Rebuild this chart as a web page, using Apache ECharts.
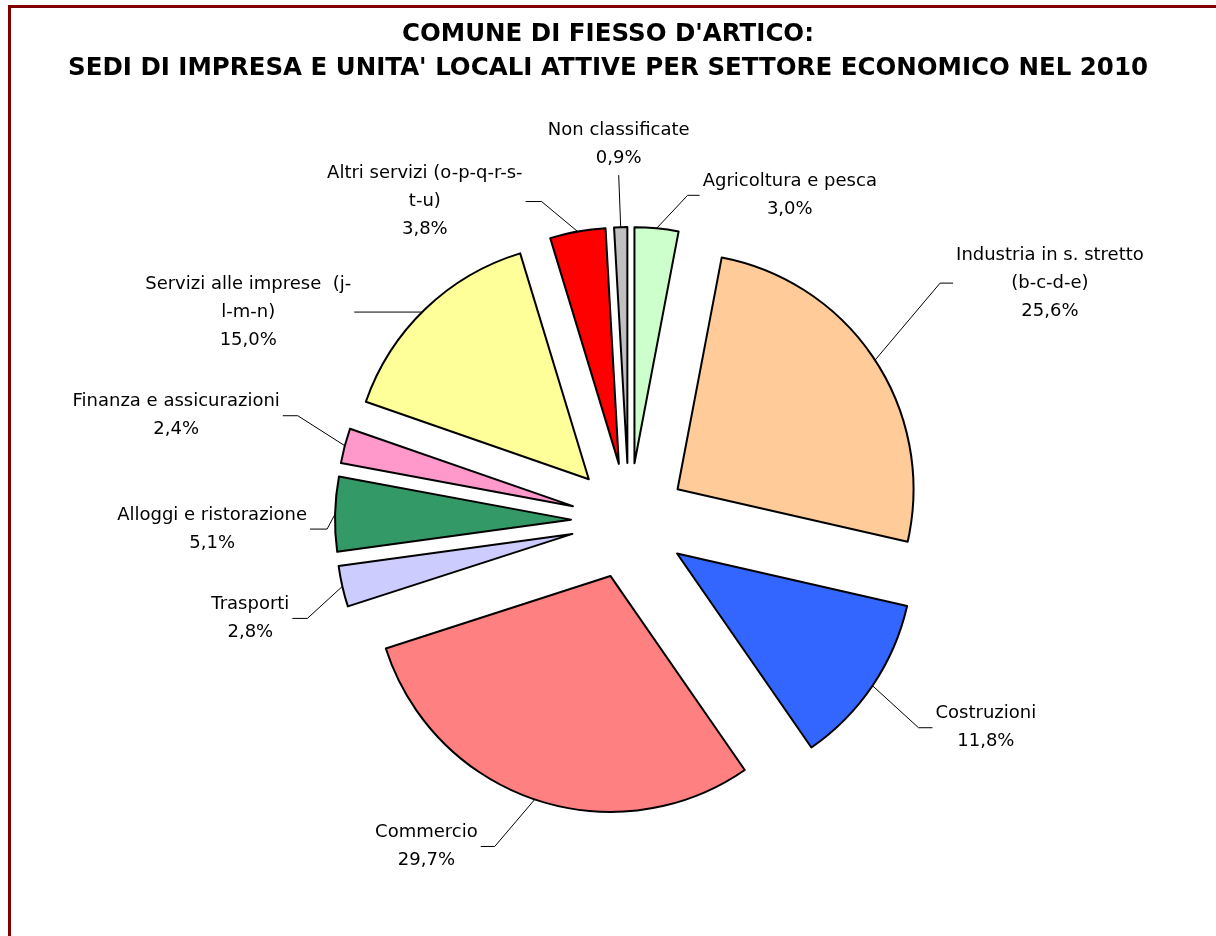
<!DOCTYPE html>
<html>
<head>
<meta charset="utf-8">
<script src="https://cdn.jsdelivr.net/npm/echarts@6/dist/echarts.min.js"></script>
<style>
  html, body { margin: 0; padding: 0; background: #fff; }
  #chart { width: 1216px; height: 936px; }
</style>
</head>
<body>
<div id="chart"></div>
<script>
var titleLines = ["COMUNE DI FIESSO D'ARTICO:", "SEDI DI IMPRESA E UNITA' LOCALI ATTIVE PER SETTORE ECONOMICO NEL 2010"];
var sectors = ['Agricoltura e pesca', 'Industria in s. stretto\n(b-c-d-e)', 'Costruzioni', 'Commercio', 'Trasporti',
    'Alloggi e ristorazione', 'Finanza e assicurazioni', 'Servizi alle imprese  (j-\nl-m-n)',
    'Altri servizi (o-p-q-r-s-\nt-u)', 'Non classificate'];
var shares = [3.0, 25.6, 11.8, 29.7, 2.8, 5.1, 2.4, 15.0, 3.8, 0.9];
var colors = ['#CCFFCC', '#FFCC99', '#3366FF', '#FF8080', '#CCCCFF', '#339966', '#FF99CC', '#FFFF99', '#FF0000', '#C0C0C0'];

// pie geometry
var cx = 629, cy = 521, R = 236, explode = 58;
// leader lines: elbow offset from the slice edge [dx, dy], then horizontal run
var leaders = [[31, -33, 12], [65, -77, 13], [46, 42, 14], [-40, 47, -14], [-35, 32, -15],
    [-8, 15, -17], [-47, -30, -15], [-1, 3, -70], [-36, -30, -16], [-2, -52, 0]];

var total = shares.reduce(function (a, b) { return a + b; }, 0);
function edgePoint(i) {
    var before = 0;
    for (var k = 0; k < i; k++) before += shares[k];
    var mid = (before + shares[i] / 2) / total * 2 * Math.PI;
    return [cx + (R + explode) * Math.sin(mid), cy - (R + explode) * Math.cos(mid)];
}

var myChart = echarts.init(document.getElementById('chart'));
var option = {
    backgroundColor: '#fff',
    animation: false,
    title: {
        text: titleLines.join('\n'),
        left: 'center',
        top: 13,
        textStyle: {
            fontFamily: 'DejaVu Sans',
            fontWeight: 'bold',
            fontSize: 24.5,
            lineHeight: 34,
            color: '#000'
        }
    },
    graphic: [{
        type: 'rect',
        shape: { x: 9.5, y: 6.5, width: 1300, height: 1000 },
        style: { fill: 'none', stroke: '#800000', lineWidth: 3 },
        silent: true
    }],
    series: [{
        // exploded slices
        type: 'pie',
        center: [cx, cy],
        radius: R,
        startAngle: 90,
        clockwise: true,
        selectedMode: 'multiple',
        selectedOffset: explode,
        silent: true,
        label: { show: false },
        labelLine: { show: false },
        itemStyle: { borderColor: '#000', borderWidth: 2 },
        data: sectors.map(function (s, i) {
            return { name: s, value: shares[i], selected: true, itemStyle: { color: colors[i] } };
        })
    }, {
        // same data, invisible, only carries the labels
        type: 'pie',
        center: [cx, cy],
        radius: R,
        startAngle: 90,
        clockwise: true,
        selectedMode: false,
        silent: true,
        avoidLabelOverlap: false,
        itemStyle: { color: 'rgba(0,0,0,0)', borderWidth: 0 },
        label: {
            show: true,
            position: 'outside',
            fontFamily: 'DejaVu Sans',
            fontSize: 18,
            lineHeight: 28,
            color: '#000',
            formatter: function (p) {
                return p.name + '\n' + p.value.toFixed(1).replace('.', ',') + '%';
            }
        },
        labelLine: {
            show: true,
            lineStyle: { color: '#000', width: 1 }
        },
        labelLayout: function (p) {
            var i = p.dataIndex;
            var s = edgePoint(i);
            var L = leaders[i];
            var elbow = [s[0] + L[0], s[1] + L[1]];
            var end = [elbow[0] + L[2], elbow[1]];
            var w = p.labelRect.width, h = p.labelRect.height;
            var x, y;
            if (L[2] > 0) { x = end[0] + 3 + w / 2; y = end[1]; }
            else if (L[2] < 0) { x = end[0] - 3 - w / 2; y = end[1]; }
            else { x = end[0]; y = end[1] - 3 - h / 2; }
            return {
                x: x, y: y, align: 'center', verticalAlign: 'middle',
                labelLinePoints: [s, elbow, end]
            };
        },
        data: sectors.map(function (s, i) {
            return { name: s, value: shares[i] };
        })
    }]
};
myChart.setOption(option);
</script>
</body>
</html>
